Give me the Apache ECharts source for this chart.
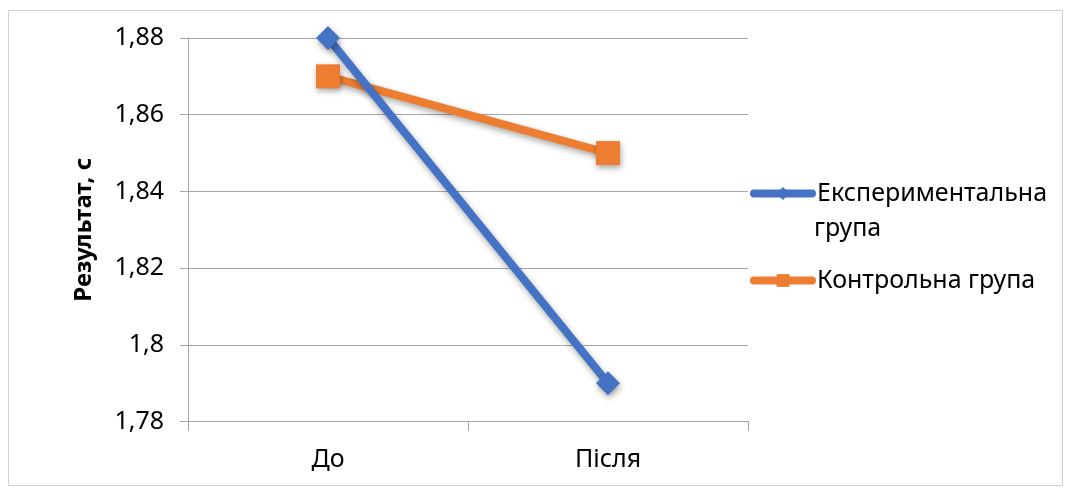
<!DOCTYPE html>
<html>
<head>
<meta charset="utf-8">
<script src="https://cdn.jsdelivr.net/npm/echarts@6/dist/echarts.min.js"></script>
<style>html,body{margin:0;padding:0;background:#fff}#c{width:1068px;height:488px}</style>
</head>
<body>
<div id="c"></div>
<script>
const categories = ['До', 'Після'];
const seriesNames = ['Експериментальна група', 'Контрольна група'];
const experimental = [1.88, 1.79];
const control = [1.87, 1.85];
const yTicks = { min: 1.78, max: 1.88, interval: 0.02 };
const yAxisTitle = 'Результат, с';

const FONT = '"Noto Sans", "Open Sans", sans-serif';
const chart = echarts.init(document.getElementById('c'), null, { renderer: 'canvas' });
const shadow = { shadowBlur: 6, shadowColor: 'rgba(0,0,0,0.35)', shadowOffsetX: 1, shadowOffsetY: 3 };

chart.setOption({
  animation: false,
  backgroundColor: '#fff',
  textStyle: { fontFamily: FONT },
  grid: { left: 188, right: 320, top: 38, bottom: 66.5, containLabel: false },
  graphic: [
    { type: 'rect', shape: { x: 8.5, y: 10.5, width: 1054, height: 475 }, style: { fill: 'none', stroke: '#d0d0d0', lineWidth: 1 }, z: -1 },
    { type: 'text', left: 814, top: 216, style: { text: 'група', fontFamily: FONT, fontSize: 25, fill: '#000' } }
  ],
  legend: {
    orient: 'vertical',
    left: 750,
    top: 181,
    padding: 0,
    itemWidth: 58,
    itemHeight: 16,
    itemGap: 62,
    lineStyle: { width: 8, cap: 'round' },
    textStyle: { fontFamily: FONT, fontSize: 25, color: '#000' },
    formatter: function (name) { return name === seriesNames[0] ? 'Експериментальна' : name; },
    data: seriesNames
  },
  xAxis: {
    type: 'category',
    data: categories,
    boundaryGap: true,
    axisLine: { show: true, lineStyle: { color: '#a6a6a6', width: 1 } },
    axisTick: { show: true, length: 9, lineStyle: { color: '#a6a6a6' } },
    axisLabel: { fontFamily: FONT, fontSize: 25, color: '#000', margin: 26 },
    splitLine: { show: false }
  },
  yAxis: {
    type: 'value',
    min: yTicks.min,
    max: yTicks.max,
    interval: yTicks.interval,
    name: yAxisTitle,
    nameLocation: 'middle',
    nameGap: 92,
    nameTextStyle: { fontFamily: FONT, fontSize: 24, fontWeight: 'bold', color: '#000' },
    axisLine: { show: true, lineStyle: { color: '#a6a6a6', width: 1 } },
    axisTick: { show: true, length: 8, lineStyle: { color: '#a6a6a6' } },
    axisLabel: {
      fontFamily: FONT, fontSize: 25, color: '#000', margin: 24,
      formatter: function (v) { return String(+v.toFixed(2)).replace('.', ','); }
    },
    splitLine: { show: true, lineStyle: { color: '#a6a6a6', width: 1 } }
  },
  series: [
    {
      name: seriesNames[0],
      type: 'line',
      data: experimental,
      symbol: 'diamond',
      symbolSize: 24,
      z: 3,
      lineStyle: { color: '#4472C4', width: 8, cap: 'round', ...shadow },
      itemStyle: { color: '#4472C4', ...shadow }
    },
    {
      name: seriesNames[1],
      type: 'line',
      data: control,
      symbol: 'rect',
      symbolSize: 24,
      z: 2,
      lineStyle: { color: '#ED7D31', width: 8, cap: 'round', ...shadow },
      itemStyle: { color: '#ED7D31', ...shadow }
    }
  ]
});
</script>
</body>
</html>
